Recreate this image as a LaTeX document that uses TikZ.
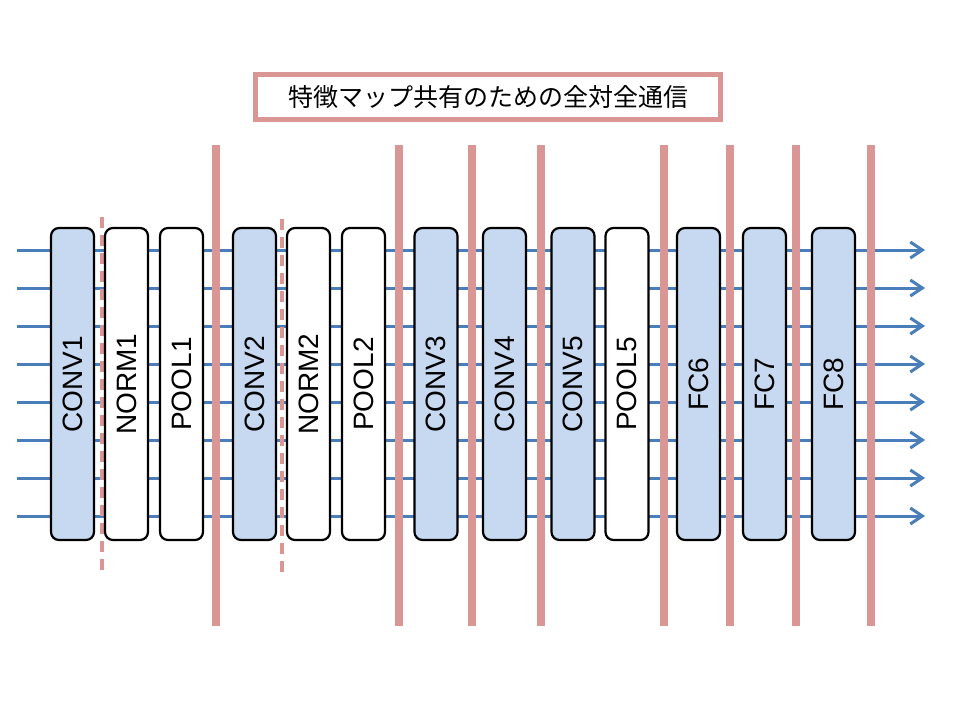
\documentclass[tikz,border=0pt]{standalone}
\usepackage{fontspec}
\setmainfont{Liberation Sans}
\newfontfamily\cjk{Noto Sans CJK JP}
\usetikzlibrary{arrows.meta}
\definecolor{sepred}{HTML}{D99694}
\definecolor{flowblue}{HTML}{4A7EBB}
\definecolor{layerfill}{HTML}{C6D9F1}
\begin{document}
\begin{tikzpicture}[x=1pt,y=-1pt,
  layer/.style={draw=black, line width=2.2pt, rounded corners=8pt, minimum width=43pt, minimum height=312pt, inner sep=0pt, anchor=center},
  convbox/.style={layer, fill=layerfill},
  plainbox/.style={layer, fill=white},
  lbl/.style={rotate=90, font=\fontsize{28}{30}\selectfont},
  flow/.style={draw=flowblue, line width=3pt, -{Straight Barb[length=12pt,width=16pt,line width=3pt]}},
  sep/.style={draw=sepred, line width=8pt},
  dsep/.style={draw=sepred, line width=4pt, dash pattern=on 11pt off 7pt}]
\useasboundingbox (0,0) rectangle (960,720);
% flow lines
\foreach \i/\yy in {1/250,2/288,3/326,4/364,5/402,6/440,7/478,8/516}{
  \coordinate (s\i) at (17,\yy);
  \coordinate (e\i) at (925,\yy);
  \draw[flow] (s\i) -- (e\i);
}
% separators
\foreach \n/\xx in {a/216,b/399,c/472,d/541,e/664,f/730,g/796,h/871}{
  \coordinate (t\n) at (\xx,145);
  \coordinate (b\n) at (\xx,626);
  \draw[sep] (t\n) -- (b\n);
}
\coordinate (dt1) at (102,217); \coordinate (db1) at (102,573);
\coordinate (dt2) at (282,219); \coordinate (db2) at (282,575);
\draw[dsep] (dt1) -- (db1);
\draw[dsep] (dt2) -- (db2);
% layers
\node[convbox] (conv1) at (72.5,384) {};
\node[plainbox] (norm1) at (126.5,384) {};
\node[plainbox] (pool1) at (181.5,384) {};
\node[convbox] (conv2) at (254.5,384) {};
\node[plainbox] (norm2) at (308.5,384) {};
\node[plainbox] (pool2) at (363.5,384) {};
\node[convbox] (conv3) at (436,384) {};
\node[convbox] (conv4) at (504.5,384) {};
\node[convbox] (conv5) at (573,384) {};
\node[plainbox] (pool5) at (627,384) {};
\node[convbox] (fc6) at (698.5,384) {};
\node[convbox] (fc7) at (764.5,384) {};
\node[convbox] (fc8) at (833.5,384) {};
\foreach \n/\t in {conv1/CONV1,norm1/NORM1,pool1/POOL1,conv2/CONV2,norm2/NORM2,pool2/POOL2,conv3/CONV3,conv4/CONV4,conv5/CONV5,pool5/POOL5,fc6/FC6,fc7/FC7,fc8/FC8}{
  \node[lbl] (\n-l) at (\n.center) {\t};
}
% title
\node[draw=sepred, line width=5pt, fill=white, minimum width=465pt, minimum height=45pt, inner sep=0pt,
  font=\cjk\fontsize{25}{27}\selectfont] (title) at (488,97) {特徴マップ共有のための全対全通信};
\end{tikzpicture}
\end{document}
